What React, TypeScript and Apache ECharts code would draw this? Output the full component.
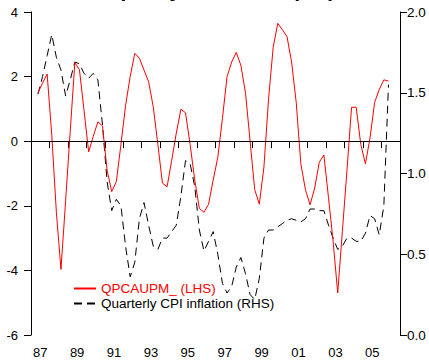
import React, { useEffect, useRef } from "react";
import * as echarts from "echarts";

const titleText = "Capacity utilisation (SA)";
const yearLabels = ["1987","1988","1989","1990","1991","1992","1993","1994","1995","1996","1997","1998","1999","2000","2001","2002","2003","2004","2005","2006"];
const startYear = 1987;
const startQuarter = 2;
const redName = "QPCAUPM_ (LHS)";
const blackName = "Quarterly CPI inflation (RHS)";
const redValues = [
  1.49, 1.8, 2.08, 0.2, -2.2, -3.97, -1.85, 0.3, 2.43, 2.22,
  0.95, -0.33, 0.15, 0.6, 0.47, -0.9, -1.56, -1.25, -0.1, 1.1,
  2.0, 2.72, 2.57, 2.2, 1.84, 1.07, -0.1, -1.3, -1.41, -0.6,
  0.25, 0.99, 0.88, -0.1, -1.2, -2.08, -2.2, -1.95, -1.2, -0.5,
  0.7, 2.0, 2.45, 2.75, 2.35, 1.5, 0.0, -1.5, -1.95, -0.8,
  1.3, 2.9, 3.65, 3.45, 3.24, 2.45, 1.2, -0.7, -1.5, -1.97,
  -1.45, -0.65, -0.43, -1.75, -3.1, -4.7, -2.8, -0.9, 1.05, 1.05,
  -0.1, -0.7, 0.1, 1.2, 1.6, 1.9, 1.86,
];
const blackValues = [
  1.49, 1.6, 1.73, 1.86, 1.72, 1.64, 1.48, 1.58, 1.69, 1.68,
  1.62, 1.59, 1.62, 1.58, 1.3, 0.95, 0.77, 0.84, 0.8, 0.55,
  0.36, 0.45, 0.72, 0.82, 0.68, 0.55, 0.53, 0.6, 0.6, 0.64,
  0.68, 0.86, 1.08, 1.06, 0.92, 0.65, 0.52, 0.58, 0.64, 0.5,
  0.32, 0.26, 0.3, 0.42, 0.48, 0.38, 0.25, 0.22, 0.35, 0.6,
  0.65, 0.65, 0.67, 0.69, 0.71, 0.72, 0.71, 0.7, 0.72, 0.78,
  0.78, 0.77, 0.77, 0.68, 0.6, 0.53, 0.55, 0.6, 0.6, 0.58,
  0.58, 0.63, 0.74, 0.72, 0.62, 0.8, 1.55,
];

const quarterX = (i: number) => {
  const q = startQuarter - 1 + i;
  return startYear + Math.floor(q / 4) + ((q % 4) + 0.5) / 4;
};

const FONT = "Liberation Sans, Arial, sans-serif";

export default function App() {
  const ref = useRef<HTMLDivElement>(null);
  useEffect(() => {
    document.body.style.margin = "0";
    const chart = echarts.init(ref.current!, null, { renderer: "svg" });
    chart.setOption({
      animation: false,
      backgroundColor: "#ffffff",
      textStyle: { fontFamily: FONT },
      grid: { left: 31, right: 29, top: 12, bottom: 29, containLabel: false },
      graphic: [
        {
          type: "text",
          left: "center",
          x: 0,
          y: -21,
          style: {
            text: titleText,
            font: `bold 21px ${FONT}`,
            fill: "#000",
          },
        },
      ],
      legend: {
        orient: "vertical",
        left: 68,
        top: 276,
        itemWidth: 22,
        itemHeight: 10,
        itemGap: 0,
        itemStyle: { opacity: 0, borderWidth: 0 },
        textStyle: { fontSize: 13.5, fontFamily: FONT, color: "#000", lineHeight: 15 },
        data: [
          { name: redName, textStyle: { color: "#ff0000" } },
          { name: blackName, textStyle: { color: "#000000" } },
        ],
      },
      xAxis: [
        {
          type: "category",
          data: yearLabels,
          boundaryGap: true,
          position: "bottom",
          axisLine: { show: true, lineStyle: { color: "#000", width: 1 } },
          axisTick: { show: true, length: 7, interval: 0, lineStyle: { color: "#000" } },
          axisLabel: {
            interval: 1,
            margin: 11,
            fontSize: 13,
            color: "#000",
            fontFamily: FONT,
            formatter: (v: string) => v.slice(2),
          },
          splitLine: { show: false },
        },
        {
          type: "value",
          min: 1987,
          max: 2007,
          show: false,
        },
      ],
      yAxis: [
        {
          type: "value",
          min: -6,
          max: 4,
          interval: 2,
          position: "left",
          axisLine: { show: true, lineStyle: { color: "#000" } },
          axisTick: { show: true, length: 7, lineStyle: { color: "#000" } },
          axisLabel: { margin: 13, fontSize: 13, color: "#000", fontFamily: FONT },
          splitLine: { show: false },
        },
        {
          type: "value",
          min: 0,
          max: 2,
          interval: 0.5,
          position: "right",
          axisLine: { show: true, lineStyle: { color: "#000" } },
          axisTick: { show: true, length: 7, lineStyle: { color: "#000" } },
          axisLabel: {
            margin: 7,
            fontSize: 13.5,
            color: "#000",
            fontFamily: FONT,
            formatter: (v: number) => v.toFixed(1),
          },
          splitLine: { show: false },
        },
      ],
      series: [
        {
          name: redName,
          type: "line",
          xAxisIndex: 1,
          yAxisIndex: 0,
          symbol: "none",
          color: "#ff0000",
          lineStyle: { color: "#ff0000", width: 1 },
          data: redValues.map((v, i) => [quarterX(i), v]),
          markLine: {
            silent: true,
            symbol: "none",
            label: { show: false },
            lineStyle: { color: "#000", width: 1, type: "solid" },
            data: [{ yAxis: 0 }],
          },
          z: 3,
        },
        {
          name: blackName,
          type: "line",
          xAxisIndex: 1,
          yAxisIndex: 1,
          symbol: "none",
          color: "#000000",
          lineStyle: { color: "#000", width: 1, type: [8, 5] },
          data: blackValues.map((v, i) => [quarterX(i), v]),
          z: 2,
        },
      ],
    });
    return () => chart.dispose();
  }, []);
  return <div ref={ref} style={{ width: 429, height: 364 }} />;
}
